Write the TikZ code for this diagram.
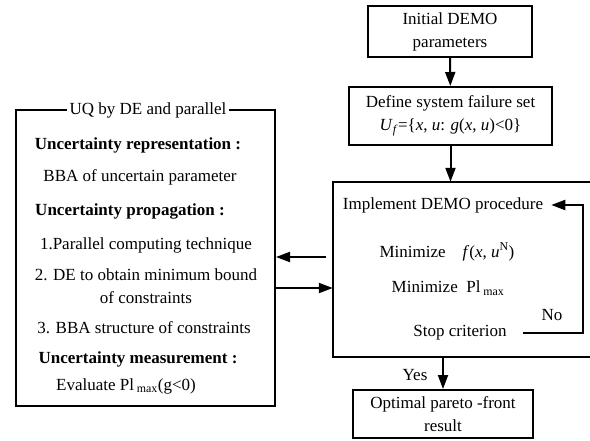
\documentclass[tikz,border=0pt]{standalone}
\usepackage{fontspec}
\setmainfont{Liberation Serif}
\usetikzlibrary{positioning,arrows.meta}

\begin{document}
\begin{tikzpicture}[x=1pt,y=-1pt,
  font=\fontsize{17}{23}\selectfont,
  box/.style={draw, line width=2pt, align=center, inner sep=0pt},
  txt/.style={align=center, inner sep=0pt},
  hd/.style={txt, font=\fontsize{17}{23}\selectfont\bfseries},
  ar/.style={-{Triangle[length=14pt,width=10pt]}, line width=2pt}
]
\useasboundingbox (0,0) rectangle (590,440);

\node[box, minimum width=164pt, minimum height=51pt] (init) at (450,31.5) {Initial DEMO\\parameters};
\node[box, minimum width=203pt, minimum height=58pt] (fail) at (450.5,116)
  {Define system failure set\\\textit{U}\textsubscript{\textit{f}}=\{\textit{x}, \textit{u}: \textit{g}(\textit{x}, \textit{u})<0\}};
\node[txt, minimum width=257pt, minimum height=175pt] (dm) at (461.5,269.5) {};
\node[box, minimum width=180pt, minimum height=48pt] (res) at (443,414) {Optimal pareto -front\\result};

\draw[line width=2pt] (dm.north east) -- (dm.north west) -- (dm.south west) -- (dm.south east);

\node[txt] (impl) at (443,205) {Implement DEMO procedure};
\node[txt] (min1) at (447,252) {Minimize\quad\textit{f}(\textit{x}, \textit{u}\textsuperscript{N})};
\node[txt] (min2) at (448,288) {Minimize\ \ Pl\,\textsubscript{max}};
\node[txt] (stop) at (460,333) {Stop criterion};
\node[txt] (no)   at (552,315) {No};
\node[txt] (yes)  at (415,375) {Yes};

\node[box, minimum width=259pt, minimum height=296pt] (uq) at (145.5,258) {};
\node[fill=white, inner xsep=3pt, inner ysep=0pt] (uqt) at (148,110) {UQ by DE and parallel};

\node[hd]  (rep)  at (138,145) {Uncertainty representation~:};
\node[txt] (bba)  at (140,177) {BBA of uncertain parameter};
\node[hd]  (prop) at (130,211) {Uncertainty propagation~:};
\node[txt] (pc)   at (146,245) {1.Parallel computing technique};
\node[txt] (de)   at (146,286.5) {2. DE to obtain minimum bound\\of constraints};
\node[txt] (bbs)  at (144,328) {3. BBA structure of constraints};
\node[hd]  (meas) at (138,359) {Uncertainty measurement~:};
\node[txt] (ev)   at (126,386) {Evaluate Pl\,\textsubscript{max}(g<0)};

\coordinate (c1) at (326,257);
\coordinate (c2) at (276,288);
\coordinate (fbtop) at (583,205);

\draw[ar] (init) -- (fail);
\draw[ar] (fail.south) -- (fail.south |- dm.north);
\draw[ar] (dm.south -| res.north) -- (res.north);
\draw[ar] (c1) -- (c1 -| uq.east);
\draw[ar] (c2) -- (c2 -| dm.west);
\draw[ar] ([xshift=16pt]stop.east) -| (fbtop) -- ([xshift=8pt]impl.east);
\end{tikzpicture}
\end{document}
